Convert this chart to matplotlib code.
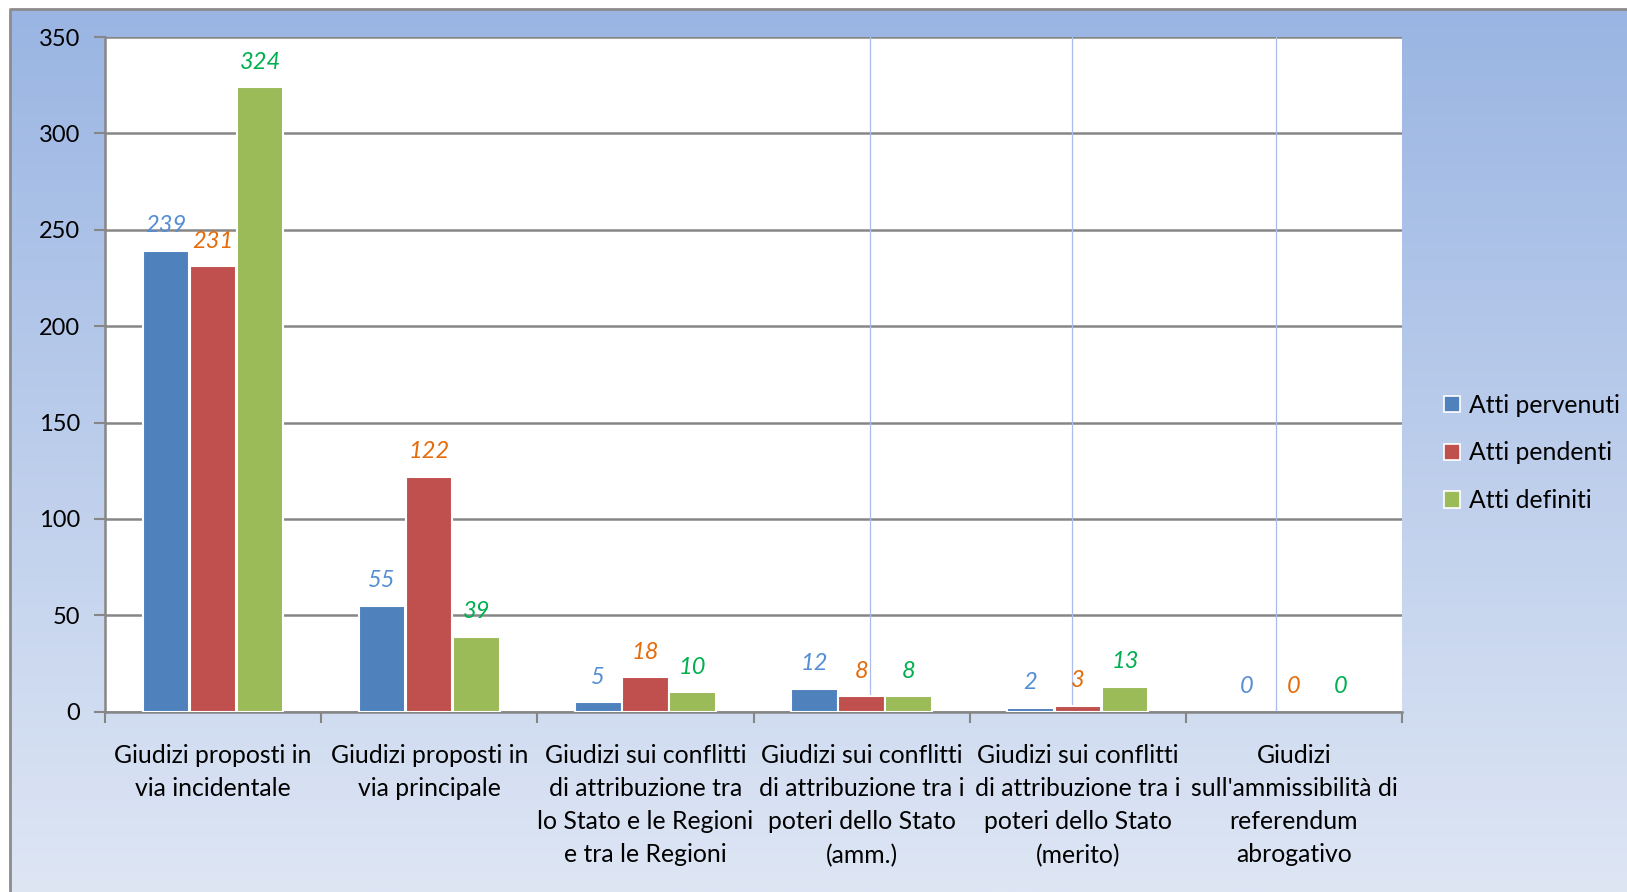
import matplotlib
matplotlib.use('Agg')
import matplotlib.pyplot as plt
from matplotlib.patches import Patch
import numpy as np

categories = [
    'Giudizi proposti in\nvia incidentale',
    'Giudizi proposti in\nvia principale',
    'Giudizi sui conflitti\ndi attribuzione tra\nlo Stato e le Regioni\ne tra le Regioni',
    'Giudizi sui conflitti\ndi attribuzione tra i\npoteri dello Stato\n(amm.)',
    'Giudizi sui conflitti\ndi attribuzione tra i\npoteri dello Stato\n(merito)',
    'Giudizi\nsull\'ammissibilità di\nreferendum\nabrogativo',
]
series = ['Atti pervenuti', 'Atti pendenti', 'Atti definiti']
pervenuti = [239, 55, 5, 12, 2, 0]
pendenti = [231, 122, 18, 8, 3, 0]
definiti = [324, 39, 10, 8, 13, 0]
yticks = [0, 50, 100, 150, 200, 250, 300, 350]

bar_colors = ['#4F81BD', '#C0504D', '#9BBB59']
label_colors = ['#558ED5', '#E46C0A', '#00B050']
FONT = 'Lato'
plt.rcParams['font.family'] = [FONT, 'DejaVu Sans']

W, H = 1627, 892
fig = plt.figure(figsize=(W / 100, H / 100), dpi=100)

# gradient background with grey frame on left/top
bg = fig.add_axes([0, 0, 1, 1], zorder=-5)
bg.set_xlim(0, W); bg.set_ylim(H, 0); bg.axis('off')
top = np.array([154, 181, 227]) / 255
bot = np.array([222, 230, 244]) / 255
t = np.linspace(0, 1, 256)[:, None]
grad = (top[None, :] * (1 - t) + bot[None, :] * t)[:, None, :]
bg.imshow(grad, extent=[10, W, H, 9], aspect='auto', interpolation='bilinear')
bg.plot([10, 10, W], [H, 9, 9], color='#8C8C8C', lw=2, solid_capstyle='butt')

L, R, T, B = 105, 1402, 37, 711.7
ax = fig.add_axes([L / W, (H - B) / H, (R - L) / W, (B - T) / H])
ax.set_facecolor('white')
x = np.arange(len(categories))
width = 0.215
for k, vals in enumerate([pervenuti, pendenti, definiti]):
    xs = x + (k - 1) * 0.218
    ax.bar(xs, vals, width, color=bar_colors[k], edgecolor='white',
           linewidth=[1.5 if v > 0 else 0 for v in vals], zorder=3,
           label=series[k])
    for xi, v in zip(xs, vals):
        ax.annotate(f'{v}', (xi, v), xytext=(0, 18), textcoords='offset points',
                    ha='center', va='center', fontsize=17, style='italic',
                    color=label_colors[k], zorder=5)

# faint vertical lines seen in the original plot area
for xv in [3.04, 3.975, 4.915]:
    ax.axvline(xv, color='#A9BCEB', lw=0.9, zorder=1)

ax.set_xlim(-0.5, len(categories) - 0.5)
ax.set_ylim(0, 350)
ax.set_yticks(yticks)
ax.yaxis.grid(True, color='#868686', lw=1.8, zorder=0)
ax.set_axisbelow(True)
ax.tick_params(axis='y', direction='out', length=8, width=1.5, color='#868686',
               labelsize=17, pad=10)
ax.set_xticks(x)
ax.set_xticklabels(categories, fontsize=17.8, linespacing=1.54, va='top')
ax.set_xticks(np.arange(-0.5, len(categories)), minor=True)
ax.tick_params(axis='x', which='major', length=0, pad=23)
ax.tick_params(axis='x', which='minor', direction='out', length=8, width=1.5,
               color='#868686')
for s in ['top', 'right']:
    ax.spines[s].set_visible(False)
for s in ['left', 'bottom']:
    ax.spines[s].set_color('#868686')
    ax.spines[s].set_linewidth(1.8)

handles = [Patch(facecolor=c, edgecolor='white', linewidth=1.2) for c in bar_colors]
fig.legend(handles, series, loc='center left', bbox_to_anchor=(1444 / W, 1 - 453 / H),
           frameon=False, fontsize=17.8, handlelength=0.65, handleheight=0.65,
           handletextpad=0.35, labelspacing=1.0, borderaxespad=0, borderpad=0)

fig.savefig('out.png', dpi=100)
